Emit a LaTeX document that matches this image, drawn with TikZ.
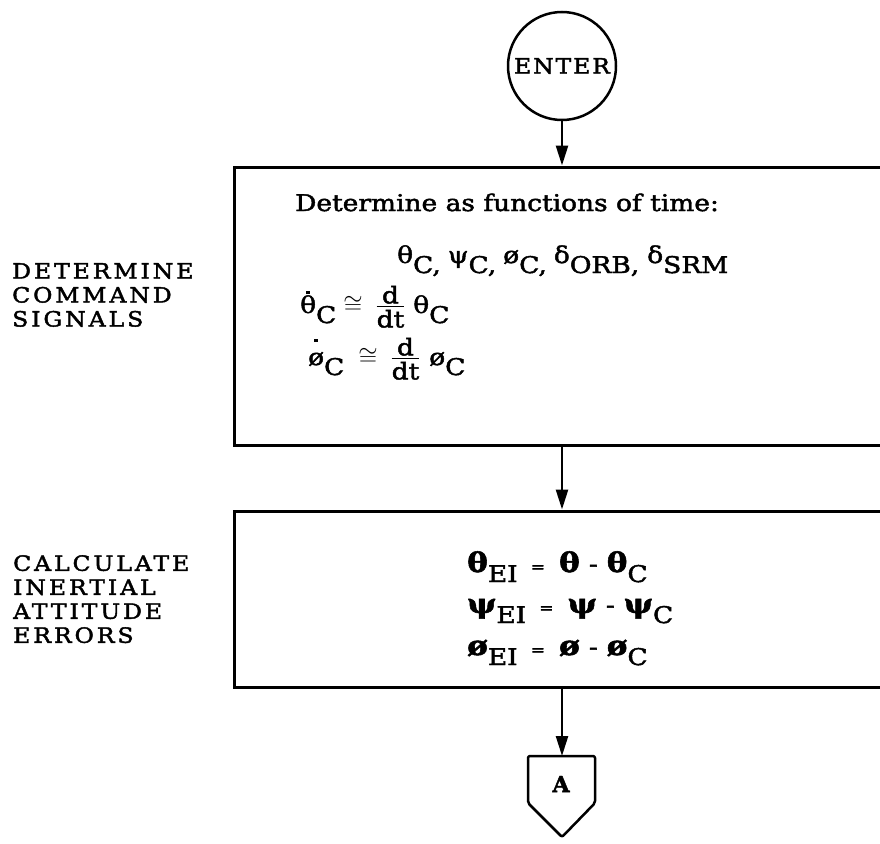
\documentclass[tikz,border=0pt]{standalone}
\usepackage{fontspec}
\setmainfont{DejaVu Serif}[FakeBold=2]
\usetikzlibrary{arrows.meta}
\newcommand\lo[1]{\raisebox{-10pt}{#1}}
\newcommand\dotover[2]{\setbox0\hbox{#1}\rlap{\hbox to\wd0{\hfil\raisebox{#2}{\rule{3.5pt}{3.5pt}}\hfil}}\box0}
\newcommand\ddt{\ensuremath{\vcenter{\hbox{\vbox{\offinterlineskip\halign{\hfil##\hfil\cr d\cr\noalign{\kern2pt\hrule height 1.3pt\kern3pt} dt\cr}}}}}}
\newcommand\eqbox{{\fontsize{15}{15}\selectfont =}}
\newcommand\bg[1]{{\fontsize{27}{27}\selectfont\bfseries #1}}
\begin{document}
\begin{tikzpicture}[x=1pt,y=-1pt,
  box/.style={draw, line width=3pt, minimum width=666pt, inner sep=0pt},
  arr/.style={line width=2.5pt, -{Triangle[length=20pt,width=12pt]}},
  lbl/.style={anchor=north west, align=left, inner sep=0pt,
    font=\fontsize{21}{24}\selectfont\addfontfeature{FakeStretch=1.12,LetterSpace=14}},
  txt/.style={anchor=base west, inner sep=0pt,
    font=\fontsize{23}{27}\selectfont\addfontfeature{FakeStretch=1.15}},
  shape line/.style={line width=2.5pt, line join=round}]
\clip (0,0) rectangle (880,843);
\fill[white] (0,0) rectangle (880,843);

% ENTER
\node[circle, draw, line width=2.5pt, minimum size=108pt, inner sep=0pt,
  font=\fontsize{21}{24}\selectfont\addfontfeature{FakeStretch=1.12,LetterSpace=9}] (enter) at (562,66) {ENTER};

% boxes
\node[box, minimum height=278pt] (b1) at (567,306) {};
\node[box, minimum height=176pt] (b2) at (567,599) {};

% side labels
\node[lbl] (lab1) at (12,263) {DETERMINE\\COMMAND\\SIGNALS};
\node[lbl] (lab2) at (13,555) {CALCULATE\\INERTIAL\\ATTITUDE\\ERRORS};

% box 1 text
\node[txt] (t1) at (295,211) {Determine as functions of time:};
\node[txt] (t2) at (397,263) {θ\lo{C,}\hspace{7pt}ψ\lo{C,}\hspace{7pt}ø\lo{C,}\hspace{7pt}δ\lo{ORB,}\hspace{8pt}δ\lo{SRM}};
\node[txt] (t3) at (300,313) {\dotover{θ}{19pt}\lo{C}\hspace{7pt}$\cong$\hspace{14pt}\ddt\hspace{9pt}θ\lo{C}};
\node[txt] (t4) at (308,365) {\dotover{ø}{23pt}\lo{C}\hspace{14pt}$\cong$\hspace{14pt}\ddt\hspace{10pt}ø\lo{C}};

% box 2 text
\node[txt] (e1) at (467,572) {\bg{θ}\lo{EI}\hspace{13pt}\eqbox\hspace{14pt}\bg{θ}\hspace{9pt}-\hspace{9pt}\bg{θ}\lo{C}};
\node[txt] (e2) at (467,613) {\bg{ψ}\lo{EI}\hspace{13pt}\eqbox\hspace{14pt}\bg{ψ}\hspace{9pt}-\hspace{9pt}\bg{ψ}\lo{C}};
\node[txt] (e3) at (467,655) {\bg{ø}\lo{EI}\hspace{13pt}\eqbox\hspace{14pt}\bg{ø}\hspace{9pt}-\hspace{9pt}\bg{ø}\lo{C}};

% off-page connector A
\coordinate (atop) at (562,756);
\draw[shape line, rounded corners=2pt] (528,756) -- (595,756) -- (595,803) -- (562,837) -- (528,803) -- cycle;
\node[font=\fontsize{22}{24}\selectfont\bfseries, inner sep=0pt] (alab) at (561,784) {A};

% connectors
\draw[arr] (enter.south) -- (enter.south |- b1.north);
\draw[arr] (b1.south -| enter) -- (b2.north -| enter);
\draw[arr] (b2.south -| atop) -- (atop);
\end{tikzpicture}
\end{document}
